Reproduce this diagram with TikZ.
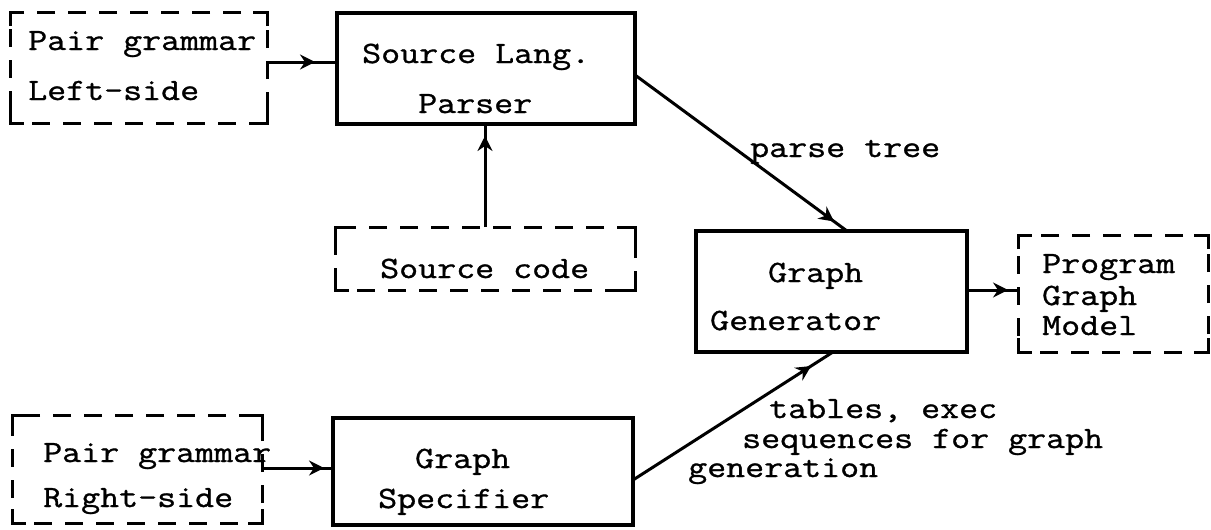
\documentclass[tikz,border=0pt]{standalone}
\usepackage{fontspec}
\newfontfamily\tw[FakeStretch=1.19,FakeBold=1]{Latin Modern Mono}
\usetikzlibrary{arrows.meta,decorations.markings}
\tikzset{
  solidbox/.style={draw, line width=3.2pt, inner sep=0pt, outer sep=0pt},
  dashbox/.style={draw, line width=3pt, inner sep=0pt, outer sep=0pt, dash pattern=on 18pt off 13pt, dash phase=-22pt},
  corner/.style={line width=3pt},
  txt/.style={anchor=base west, inner sep=0pt, font=\tw\fontsize{31}{31}\selectfont},
  conn/.style={line width=3pt},
  arrat/.style={postaction={decorate}, decoration={markings,
      mark=at position -#1 with {\arrow{Stealth[length=15pt,width=15pt,inset=5pt]}}}}
}
\newcommand\dcorners[1]{%
  \draw[corner] ([yshift=-14pt]#1.north west) -- (#1.north west) -- ([xshift=14pt]#1.north west);
  \draw[corner] ([yshift=-14pt]#1.north east) -- (#1.north east) -- ([xshift=-14pt]#1.north east);
  \draw[corner] ([yshift=14pt]#1.south west) -- (#1.south west) -- ([xshift=14pt]#1.south west);
  \draw[corner] ([yshift=14pt]#1.south east) -- (#1.south east) -- ([xshift=-14pt]#1.south east);
}
\begin{document}
\begin{tikzpicture}[x=1pt,y=-1pt]
\fill[white] (0,0) rectangle (1211,530);
\useasboundingbox (0,0) rectangle (1211,530);

% boxes
\node[dashbox, minimum width=257pt, minimum height=111pt] (pgl) at (138.5,67.5) {};
\node[solidbox, minimum width=298pt, minimum height=111pt] (parser) at (486,68.5) {};
\node[dashbox, minimum width=300pt, minimum height=63pt] (src) at (485,258.5) {};
\node[solidbox, minimum width=271pt, minimum height=121pt] (gg) at (831.5,291.5) {};
\node[dashbox, minimum width=190pt, minimum height=117pt] (pgm) at (1113,293.5) {};
\node[dashbox, minimum width=250pt, minimum height=108pt] (pgr) at (137,469) {};
\node[solidbox, minimum width=300pt, minimum height=107pt] (spec) at (483,471.5) {};
\dcorners{pgl}
\dcorners{src}
\dcorners{pgm}
\dcorners{pgr}

% texts
\node[txt] (t1) at (28,50) {Pair grammar};
\node[txt] (t2) at (28,100) {Left-side};
\node[txt] (t3) at (362,63) {Source Lang.};
\node[txt] (t4) at (418,113) {Parser};
\node[txt] (t5) at (380,278) {Source code};
\node[txt] (t6) at (768,282) {Graph};
\node[txt] (t7) at (710,330) {Generator};
\node[txt] (t8) at (1042,273) {Program};
\node[txt] (t9) at (1042,305) {Graph};
\node[txt] (t10) at (1042,335) {Model};
\node[txt] (t11) at (750,157) {parse tree};
\node[txt] (t12) at (769,418) {tables, exec};
\node[txt] (t13) at (742,448) {sequences for graph};
\node[txt] (t14) at (688,477) {generation};
\node[txt] (t15) at (415,468) {Graph};
\node[txt] (t16) at (378,508) {Specifier};
\node[txt] (t17) at (43,462) {Pair grammar};
\node[txt] (t18) at (43,507) {Right-side};

% connectors
\draw[conn, arrat=22pt] ([yshift=5.5pt]pgl.east) -- ([yshift=5.5pt]pgl.east -| parser.west);
\draw[conn, arrat=12pt] (src.north) -- (src.north |- parser.south);
\draw[conn, arrat=16pt] ([yshift=-6.5pt]parser.east) -- ([xshift=15.5pt]gg.north);
\draw[conn, arrat=10pt] ([yshift=1.5pt]gg.east) -- ([yshift=1.5pt]gg.east -| pgm.west);
\draw[conn, arrat=9pt] ([yshift=1pt]pgr.east) -- ([yshift=1pt]pgr.east -| spec.west);
\draw[conn, arrat=26pt] ([yshift=-8.5pt]spec.east) -- ([xshift=1.5pt]gg.south);
\end{tikzpicture}
\end{document}
